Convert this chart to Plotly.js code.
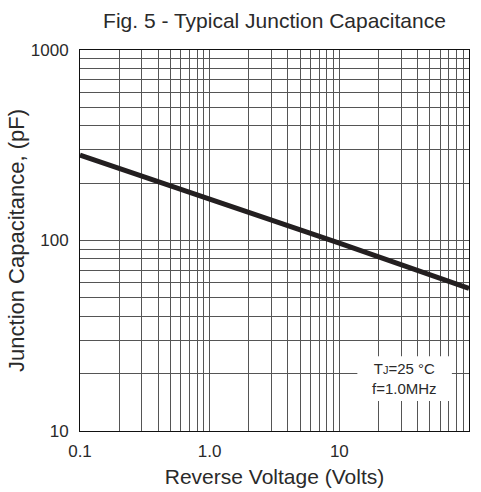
<!DOCTYPE html>
<html>
<head>
<meta charset="utf-8">
<script src="https://cdn.plot.ly/plotly-3.0.1.min.js"></script>
<style>html,body{margin:0;padding:0;background:#fff;}#chart{width:481px;height:492px;}</style>
</head>
<body>
<div id="chart"></div>
<script>
// Data
const reverseVoltage = [0.1, 1, 10, 100];          // Volts
const junctionCapacitance = [281, 166, 97, 56];    // pF

const xTickValues = [0.1, 1, 10, 100];
const xTickLabels = ["0.1", "1.0", "10", "100"];
const yTickValues = [10, 100, 1000];
const yTickLabels = ["10", "100", "1000"];

const titleText = "Fig. 5 - Typical Junction Capacitance";
const xTitleText = "Reverse Voltage (Volts)";
const yTitleText = "Junction Capacitance, (pF)";
const noteText = "T<span style='font-size:11px'>J</span>=25 °C<br>f=1.0MHz";

// Gridline positions: every digit of each decade, labels only on decades
function decadeGrid(lo, hi, labelVals, labelTexts) {
  const vals = [], texts = [];
  for (let d = lo; d < hi; d *= 10) {
    for (let k = 1; k <= 9; k++) {
      const v = +(d * k).toPrecision(6);
      vals.push(v);
      const i = labelVals.indexOf(v);
      texts.push(i >= 0 ? labelTexts[i] : "");
    }
  }
  vals.push(hi);
  const j = labelVals.indexOf(hi);
  texts.push(j >= 0 ? labelTexts[j] : "");
  return {vals, texts};
}
const xg = decadeGrid(0.1, 100, xTickValues, xTickLabels);
const yg = decadeGrid(10, 1000, yTickValues, yTickLabels);

const FONT = "'Liberation Sans', Arial, sans-serif";
const TXT = "#2a2a2a";
const GRID = "#555555";

const trace = {
  x: reverseVoltage,
  y: junctionCapacitance,
  type: "scatter",
  mode: "lines",
  line: {color: "#231f20", width: 5},
  hoverinfo: "skip",
  showlegend: false
};

const layout = {
  width: 481,
  height: 492,
  margin: {l: 80, r: 12, t: 50, b: 61, pad: 0},
  paper_bgcolor: "#ffffff",
  plot_bgcolor: "#ffffff",
  font: {family: FONT, color: TXT, size: 17},
  title: {
    text: titleText,
    font: {family: FONT, size: 21, color: TXT},
    xref: "paper", x: 0.5, xanchor: "center",
    yref: "container", y: 0.959, yanchor: "middle"
  },
  xaxis: {
    type: "log",
    range: [-1, 2],
    tickmode: "array",
    tickvals: xg.vals,
    ticktext: xg.texts,
    ticks: "",
    showgrid: true,
    gridcolor: GRID,
    gridwidth: 1,
    showline: true,
    linecolor: "#111",
    linewidth: 1,
    mirror: true,
    zeroline: false,
    ticklabelstandoff: 5,
    tickfont: {family: FONT, size: 17, color: TXT},
    title: {text: xTitleText, font: {family: FONT, size: 21, color: TXT}, standoff: 8}
  },
  yaxis: {
    type: "log",
    range: [1, 3],
    tickmode: "array",
    tickvals: yg.vals,
    ticktext: yg.texts,
    ticks: "",
    showgrid: true,
    gridcolor: GRID,
    gridwidth: 1,
    showline: true,
    linecolor: "#111",
    linewidth: 1,
    mirror: true,
    zeroline: false,
    ticklabelstandoff: 7,
    tickfont: {family: FONT, size: 17, color: TXT},
    title: {text: yTitleText, font: {family: FONT, size: 22, color: TXT}, standoff: 0}
  },
  shapes: [{
    type: "rect",
    xref: "paper", yref: "paper",
    x0: 0.713, x1: 0.956, y0: 0.079, y1: 0.196,
    fillcolor: "#ffffff",
    line: {width: 0},
    layer: "above"
  }],
  annotations: [{
    xref: "paper", yref: "paper",
    x: 0.835, y: 0.138,
    xanchor: "center", yanchor: "middle",
    text: noteText,
    showarrow: false,
    align: "center",
    font: {family: FONT, size: 15, color: TXT}
  }]
};

Plotly.newPlot("chart", [trace], layout, {staticPlot: true, displayModeBar: false});
</script>
</body>
</html>
